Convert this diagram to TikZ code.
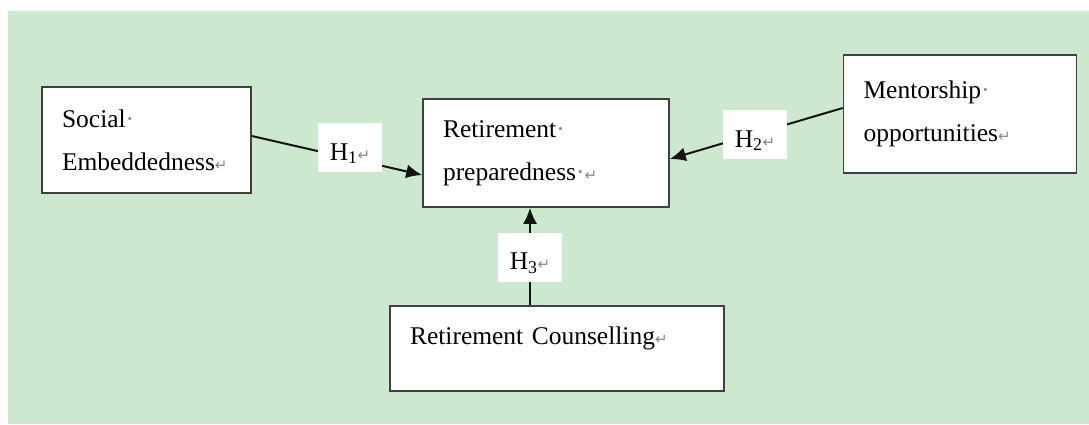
\documentclass[tikz,border=0pt]{standalone}
\usepackage{fontspec}
\setmainfont{Liberation Serif}
\newfontfamily\markfont{DejaVu Sans}
\usetikzlibrary{arrows.meta}
\definecolor{bggreen}{RGB}{204,232,207}
\definecolor{boxline}{RGB}{64,64,64}
\definecolor{arrowline}{RGB}{20,20,20}
\definecolor{markgray}{RGB}{135,135,135}
\newcommand{\retmark}{{\markfont\fontsize{15}{15}\selectfont\color{markgray}↵}}
\newcommand{\spcmark}{{\color{markgray}·}}

\begin{document}
\begin{tikzpicture}[x=1pt,y=-1pt,
		box/.style={draw=boxline,line width=1.6pt,fill=white,align=left,inner xsep=20pt,
			font=\fontsize{25.5}{43}\selectfont},
		hyp/.style={fill=white,minimum width=64pt,minimum height=49pt,inner sep=0pt,
			text height=25pt,text depth=0pt,font=\fontsize{25.5}{30}\selectfont},
		link/.style={line width=2pt,draw=arrowline,-{Latex[length=16pt,width=14pt]}}]
			\useasboundingbox (0,0) rectangle (1089,424);
			\fill [bggreen] (8,11) rectangle (1089,424);
			\node [box,text width=169pt,minimum height=106pt] (soc) at (146.5,140) {Social\spcmark\\Embeddedness\retmark};
			\node [box,text width=206pt,minimum height=108pt] (ret) at (546,153) {Retirement\spcmark\\preparedness\spcmark\retmark};
			\node [box,text width=193pt,minimum height=118pt] (men) at (960,114) {Mentorship\spcmark\\opportunities\retmark};
			\node [box,text width=294pt,minimum height=85pt,text height=20pt,text depth=29pt] (cou) at (557,348.5) {Retirement Counselling\retmark};
			\draw [link] ([yshift=4pt]soc.east)--([yshift=-22pt]ret.west);
			\draw [link] ([yshift=6pt]men.west)--([yshift=-6pt]ret.east);
			\draw [link] ([xshift=-27pt]cou.north)--([xshift=-16pt]ret.south);
			\node [hyp] (h1) at (350,147.5) {H\textsubscript{1}\retmark};
			\node [hyp] (h2) at (755,134.5) {H\textsubscript{2}\retmark};
			\node [hyp] (h3) at (530,257) {H\textsubscript{3}\retmark};
		\end{tikzpicture}
\end{document}
